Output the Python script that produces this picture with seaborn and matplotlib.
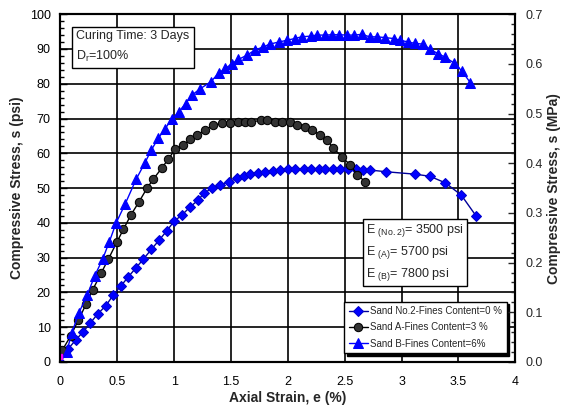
import matplotlib
matplotlib.use("Agg")
import matplotlib.pyplot as plt
from matplotlib.ticker import MultipleLocator
import seaborn as sns
import pandas as pd

sns.set_style("white")
plt.rcParams['font.family'] = ['Liberation Sans', 'DejaVu Sans']
plt.rcParams['mathtext.fontset'] = 'custom'
plt.rcParams['mathtext.rm'] = 'Liberation Sans'

# ---- data ----
no2_x = [0.0, 0.063, 0.134, 0.20, 0.26, 0.327, 0.40, 0.465, 0.53, 0.597, 0.66, 0.73, 0.80, 0.867,
         0.935, 1.0, 1.067, 1.14, 1.21, 1.26, 1.33, 1.40, 1.48, 1.55, 1.61, 1.67, 1.74, 1.80, 1.87,
         1.93, 2.0, 2.06, 2.14, 2.20, 2.27, 2.33, 2.40, 2.46, 2.53, 2.60, 2.665, 2.72, 2.865, 3.12,
         3.25, 3.385, 3.525, 3.655]
no2_y = [0.0, 3.6, 6.3, 8.7, 11.1, 13.8, 16.2, 19.3, 21.8, 24.5, 26.9, 29.6, 32.4, 35.0,
         37.7, 40.5, 42.2, 44.6, 46.5, 48.5, 49.9, 50.9, 51.8, 52.8, 53.4, 54.0, 54.4, 54.7, 55.0,
         55.2, 55.4, 55.5, 55.5, 55.5, 55.5, 55.5, 55.5, 55.5, 55.4, 55.4, 55.2, 55.2, 54.7, 54.0,
         53.4, 51.5, 48.0, 42.0]

a_x = [0.016, 0.09, 0.157, 0.225, 0.283, 0.357, 0.42, 0.495, 0.553, 0.62, 0.69, 0.76, 0.817, 0.89,
       0.95, 1.01, 1.08, 1.14, 1.20, 1.27, 1.345, 1.42, 1.49, 1.565, 1.62, 1.68, 1.76, 1.815, 1.89,
       1.95, 2.02, 2.08, 2.15, 2.215, 2.285, 2.345, 2.40, 2.475, 2.55, 2.61, 2.68]
a_y = [3.4, 7.5, 12.0, 16.6, 20.7, 25.5, 29.5, 34.4, 38.1, 42.3, 46.0, 49.9, 52.6, 55.7,
       58.4, 61.2, 62.3, 64.0, 65.2, 66.7, 68.1, 68.6, 68.6, 69.0, 69.0, 69.0, 69.5, 69.5, 69.0,
       69.0, 69.0, 68.1, 67.6, 66.7, 65.2, 63.8, 61.5, 59.0, 56.6, 53.9, 51.8]

b_x = [0.0, 0.055, 0.1, 0.16, 0.236, 0.30, 0.37, 0.43, 0.49, 0.57, 0.665, 0.74, 0.80, 0.86, 0.92,
       0.98, 1.04, 1.10, 1.155, 1.23, 1.32, 1.39, 1.45, 1.51, 1.565, 1.64, 1.71, 1.785, 1.84, 1.92,
       1.99, 2.06, 2.12, 2.20, 2.255, 2.33, 2.39, 2.45, 2.52, 2.58, 2.65, 2.72, 2.78, 2.85, 2.93,
       2.99, 3.06, 3.12, 3.19, 3.25, 3.32, 3.385, 3.46, 3.53, 3.605]
b_y = [0.0, 3.0, 8.3, 14.0, 19.3, 24.7, 29.5, 34.6, 40.0, 45.5, 52.5, 57.1, 61.0, 64.3, 67.1,
       69.8, 71.9, 74.3, 76.7, 78.6, 80.5, 83.0, 84.4, 85.8, 87.0, 88.2, 89.7, 90.6, 91.4, 92.0,
       92.5, 93.0, 93.5, 93.7, 94.0, 94.0, 94.1, 94.1, 94.0, 94.0, 94.2, 93.5, 93.5, 93.3, 93.0,
       92.5, 92.0, 91.6, 91.4, 89.9, 88.7, 87.6, 86.0, 83.7, 80.3]

origin_x = [0.0]
origin_y = [1.5]

labels = ["Sand No.2-Fines Content=0 %", "Sand A-Fines Content=3 %", "Sand B-Fines Content=6%"]

fig = plt.figure(figsize=(5.65, 4.18), dpi=100)
ax = fig.add_axes([0.107, 0.134, 0.805, 0.832])

sns.lineplot(x=no2_x, y=no2_y, ax=ax, sort=False, color="#000099", lw=1.0, marker="D",
             markersize=5, markerfacecolor="#0000FF", markeredgecolor="#0000CC", label=labels[0], zorder=4)
sns.lineplot(x=a_x, y=a_y, ax=ax, sort=False, color="black", lw=1.0, marker="o",
             markersize=6, markerfacecolor="#333333", markeredgecolor="black", label=labels[1], zorder=4)
sns.lineplot(x=b_x, y=b_y, ax=ax, sort=False, color="#0000FF", lw=1.0, marker="^",
             markersize=6.5, markerfacecolor="#0000FF", markeredgecolor="#0000FF", label=labels[2], zorder=4)
sns.scatterplot(x=origin_x, y=origin_y, ax=ax, marker="s", s=14, color="#FF00FF",
                edgecolor="#CC00CC", zorder=5, legend=False)

ax.set_xlim(0, 4)
ax.set_ylim(0, 100)
ax.xaxis.set_major_locator(MultipleLocator(0.5))
ax.xaxis.set_minor_locator(MultipleLocator(0.1))
ax.yaxis.set_major_locator(MultipleLocator(10))
ax.yaxis.set_minor_locator(MultipleLocator(2))
ax.set_xticks([0, 0.5, 1, 1.5, 2, 2.5, 3, 3.5, 4])
ax.set_xticklabels(["0", "0.5", "1", "1.5", "2", "2.5", "3", "3.5", "4"])
ax.grid(True, which="major", color="black", lw=1.2)
ax.tick_params(which="both", direction="in", labelsize=9, colors="black")
ax.tick_params(axis="x", which="both", pad=10)
ax.tick_params(axis="y", which="both", pad=7)
ax.tick_params(which="major", length=5, width=1)
ax.tick_params(which="minor", length=3, width=1)
ax.tick_params(axis="x", which="both", top=False)
ax.tick_params(axis="y", which="both", right=False)
for s in ax.spines.values():
    s.set_visible(True)
    s.set_color("black")
    s.set_linewidth(1.5)

ax.set_xlabel("Axial Strain, e (%)", fontsize=10, fontweight="bold", labelpad=2)
ax.set_ylabel("Compressive Stress, s (psi)", fontsize=10, fontweight="bold", labelpad=4)

ax2 = ax.twinx()
ax2.set_ylim(0, 0.7)
ax2.yaxis.set_major_locator(MultipleLocator(0.1))
ax2.yaxis.set_minor_locator(MultipleLocator(0.02))
ax2.set_yticks([0, 0.1, 0.2, 0.3, 0.4, 0.5, 0.6, 0.7])
ax2.set_yticklabels(["0.0", "0.1", "0.2", "0.3", "0.4", "0.5", "0.6", "0.7"])
ax2.tick_params(which="both", direction="in", labelsize=9, pad=7)
ax2.tick_params(which="major", length=5, width=1)
ax2.tick_params(which="minor", length=3, width=1)
ax2.set_ylabel("Compressive Stress, s (MPa)", fontsize=10, fontweight="bold", labelpad=3)
for s in ax2.spines.values():
    s.set_color("black")
    s.set_linewidth(1.5)
ax2.grid(False)

leg = ax.legend(loc="lower right", bbox_to_anchor=(0.985, 0.02), fontsize=7, frameon=True,
                fancybox=False, edgecolor="black", shadow={"color": "black", "alpha": 1},
                borderpad=0.45, labelspacing=0.65, handlelength=2.0, handletextpad=0.2,
                borderaxespad=0.2)
leg.get_frame().set_linewidth(1.0)
leg.set_zorder(10)

ax.text(0.035, 0.955, "Curing Time: 3 Days\nD$_{\\rm r}$=100%", transform=ax.transAxes,
        fontsize=9, va="top", ha="left", linespacing=1.6,
        bbox=dict(boxstyle="square,pad=0.35", facecolor="white", edgecolor="black", lw=1.0), zorder=10)

ax.text(0.672, 0.402, "E $_{\\rm (No.2)}$= 3500 psi\nE $_{\\rm (A)}$= 5700 psi\nE $_{\\rm (B)}$= 7800 psi",
        transform=ax.transAxes, fontsize=9, va="top", ha="left", linespacing=1.45,
        bbox=dict(boxstyle="square,pad=0.25", facecolor="white", edgecolor="black", lw=1.0), zorder=10)

fig.savefig("out.png", dpi=100)
